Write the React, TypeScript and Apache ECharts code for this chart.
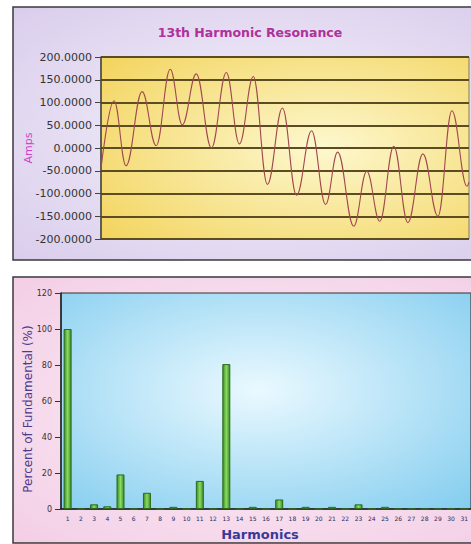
import React, { useEffect, useRef } from "react";
import * as echarts from "echarts";

// Top chart: waveform (phase in degrees of the fundamental, amps)
const waveDegrees = [0, 12.8, 24.5, 40.2, 54, 67.7, 79.5, 93.2, 108, 122.6, 135.4, 149, 162.8, 177.5, 191.3, 206, 219.7, 231.5, 247.2, 260, 272.7, 286.4, 300.2, 314.9, 329.6, 343.3, 358, 360];
const waveAmps = [-45, 104, -39, 124, 5, 173, 51, 163, 0, 166, 9, 157, -80, 88, -104, 38, -124, -9, -172, -51, -161, 4, -164, -13, -150, 82, -84, -75];

// Bottom chart: harmonic spectrum
const harmonics = ["1", "2", "3", "4", "5", "6", "7", "8", "9", "10", "11", "12", "13", "14", "15", "16", "17", "18", "19", "20", "21", "22", "23", "24", "25", "26", "27", "28", "29", "30", "31"];
const percentOfFundamental = [100, 0, 2.6, 1.5, 19.2, 0, 9, 0, 1.2, 0, 15.6, 0, 80.5, 0, 1.2, 0, 5.3, 0, 1.2, 0, 1.2, 0, 2.6, 0, 1.2, 0, 0, 0, 0, 0, 0];

export default function App() {
  const ref = useRef<HTMLDivElement>(null);
  useEffect(() => {
    const chart = echarts.init(ref.current!, null, { renderer: "svg" });
    const yellow = new echarts.graphic.RadialGradient(0.6, 0.5, 0.75, [
      { offset: 0, color: "#fdf8cf" },
      { offset: 1, color: "#f3d561" },
    ]);
    const blue = new echarts.graphic.RadialGradient(0.48, 0.45, 0.75, [
      { offset: 0, color: "#eaf9ff" },
      { offset: 1, color: "#84cdef" },
    ]);
    const lavender = new echarts.graphic.RadialGradient(0.5, 0.5, 0.8, [
      { offset: 0, color: "#f5f2fb" },
      { offset: 1, color: "#d6c8ea" },
    ]);
    const pink = new echarts.graphic.RadialGradient(0.5, 0.5, 0.8, [
      { offset: 0, color: "#fcf0f8" },
      { offset: 1, color: "#f2c9e3" },
    ]);
    const green = new echarts.graphic.LinearGradient(0, 0, 1, 0, [
      { offset: 0, color: "#3a8a26" },
      { offset: 0.5, color: "#8bdc62" },
      { offset: 1, color: "#3a8a26" },
    ]);
    chart.setOption({
      animation: false,
      backgroundColor: "#ffffff",
      textStyle: { fontFamily: "DejaVu Sans" },
      graphic: [
        {
          type: "rect",
          z: -10,
          shape: { x: 13, y: 7, width: 500, height: 253 },
          style: { fill: lavender, stroke: "#3a3a3a", lineWidth: 1.5 },
        },
        {
          type: "rect",
          z: -10,
          shape: { x: 13, y: 277, width: 500, height: 266 },
          style: { fill: pink, stroke: "#3a3a3a", lineWidth: 1.5 },
        },
        {
          type: "text",
          z: 10,
          x: 250,
          y: 32,
          style: {
            text: "13th Harmonic Resonance",
            fill: "#b0309c",
            font: "bold 12.5px 'DejaVu Sans'",
            textAlign: "center",
            textVerticalAlign: "middle",
          },
        },
      ],
      grid: [
        {
          left: 101,
          top: 57,
          right: 2,
          height: 182,
          show: true,
          backgroundColor: yellow,
          borderColor: "#8a7a50",
          borderWidth: 1,
        },
        {
          left: 61,
          top: 293,
          right: -9,
          height: 216,
          show: true,
          backgroundColor: blue,
          borderColor: "#333333",
          borderWidth: 1,
        },
      ],
      xAxis: [
        {
          gridIndex: 0,
          type: "value",
          min: 0,
          max: 360,
          axisLabel: { show: false },
          axisTick: { show: false },
          axisLine: { show: false },
          splitLine: { show: false },
        },
        {
          gridIndex: 1,
          type: "category",
          data: harmonics,
          axisTick: { show: false },
          axisLine: { lineStyle: { color: "#222222", width: 1.5 } },
          axisLabel: { interval: 0, fontSize: 6, color: "#2a2a5a", margin: 6 },
          name: "Harmonics",
          nameLocation: "middle",
          nameGap: 19,
          nameMoveOverlap: false,
          nameTextStyle: { fontSize: 13, fontWeight: "bold", color: "#3a3a96", padding: [0, 12, 0, 0] },
        },
      ],
      yAxis: [
        {
          gridIndex: 0,
          type: "value",
          min: -200,
          max: 200,
          interval: 50,
          axisLine: { show: true, lineStyle: { color: "#444444", width: 1.5 } },
          axisTick: { show: true, length: 6, lineStyle: { color: "#444444" } },
          axisLabel: {
            formatter: (v: number) => v.toFixed(4),
            fontSize: 11,
            color: "#333333",
            margin: 9,
          },
          splitLine: { lineStyle: { color: "#5c4c22", width: 2 } },
          name: "Amps",
          nameLocation: "middle",
          nameGap: 67,
          nameMoveOverlap: false,
          nameTextStyle: { color: "#d040c8", fontSize: 11 },
        },
        {
          gridIndex: 1,
          type: "value",
          min: 0,
          max: 120,
          interval: 20,
          axisLine: { show: true, lineStyle: { color: "#222222", width: 1.5 } },
          axisTick: { show: true, length: 6, lineStyle: { color: "#333333" } },
          axisLabel: { fontSize: 8, color: "#333333", margin: 9 },
          splitLine: { show: false },
          name: "Percent of Fundamental (%)",
          nameLocation: "middle",
          nameGap: 27,
          nameMoveOverlap: false,
          nameTextStyle: { color: "#4a3c8c", fontSize: 12, padding: [0, 16, 0, 0] },
        },
      ],
      series: [
        {
          type: "line",
          xAxisIndex: 0,
          yAxisIndex: 0,
          data: waveDegrees.map((d, i) => [d, waveAmps[i]]),
          smooth: 0.4,
          smoothMonotone: "x",
          showSymbol: false,
          lineStyle: { color: "#a04850", width: 1.1 },
          z: 5,
        },
        {
          type: "bar",
          xAxisIndex: 1,
          yAxisIndex: 1,
          data: percentOfFundamental,
          barWidth: 8,
          itemStyle: { color: green, borderColor: "#2d6b1c", borderWidth: 1 },
        },
      ],
    });
    return () => chart.dispose();
  }, []);
  return <div ref={ref} style={{ position: "fixed", left: 0, top: 0, width: 471, height: 544 }} />;
}
